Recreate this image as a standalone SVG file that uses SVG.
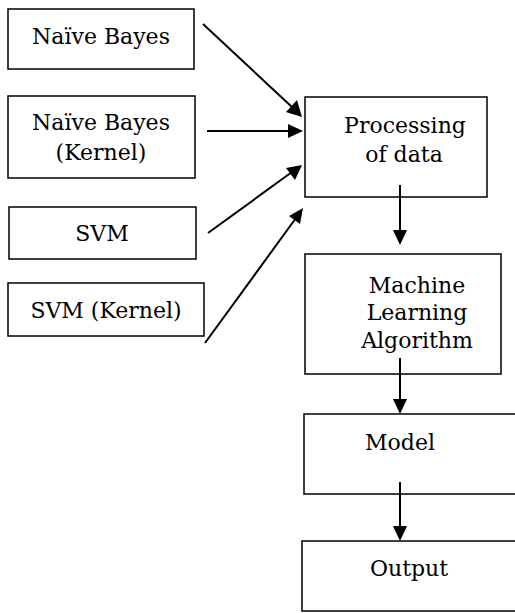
<svg xmlns="http://www.w3.org/2000/svg" width="515" height="613" viewBox="0 0 515 613">
<defs>
<style>
.box{fill:#fff;stroke:#000;stroke-width:1.5}
.t{font-family:'DejaVu Serif','Liberation Serif',serif;font-size:22px;fill:#000;text-anchor:middle}
.ln{stroke:#000;stroke-width:2;fill:none}
.hd{fill:#000;stroke:none}
</style>
</defs>
<rect width="515" height="613" fill="#fff"/>
<g id="n1"><rect class="box" x="8" y="9" width="186" height="60"/><text class="t" x="101" y="44">Naïve Bayes</text></g>
<g id="n2"><rect class="box" x="8" y="96" width="187" height="82"/><text class="t" x="101" y="130">Naïve Bayes</text><text class="t" x="101" y="160">(Kernel)</text></g>
<g id="n3"><rect class="box" x="9" y="207" width="187" height="52"/><text class="t" x="102" y="241">SVM</text></g>
<g id="n4"><rect class="box" x="8" y="283" width="196" height="53"/><text class="t" x="106" y="318">SVM (Kernel)</text></g>
<g id="n5"><rect class="box" x="305" y="97" width="182" height="100"/><text class="t" x="405" y="133">Processing</text><text class="t" x="404" y="162">of data</text></g>
<g id="n6"><rect class="box" x="305" y="254" width="196" height="120"/><text class="t" x="417" y="293">Machine</text><text class="t" x="417" y="320">Learning</text><text class="t" x="417" y="348">Algorithm</text></g>
<g id="n7"><rect class="box" x="304" y="414" width="220" height="80"/><text class="t" x="400" y="450">Model</text></g>
<g id="n8"><rect class="box" x="302" y="541" width="222" height="70"/><text class="t" x="409" y="576">Output</text></g>
<g id="connectors">
<line class="ln" x1="203" y1="24" x2="293" y2="108"/>
<polygon class="hd" points="302,117 286,112 297,100"/>
<line class="ln" x1="207" y1="131" x2="290" y2="131"/>
<polygon class="hd" points="303,131 288,124 288,138"/>
<line class="ln" x1="208" y1="233" x2="292" y2="172"/>
<polygon class="hd" points="302,165 295,180 286,168"/>
<line class="ln" x1="205" y1="343" x2="296" y2="218"/>
<polygon class="hd" points="303,208 300,224 289,216"/>
<line class="ln" x1="400" y1="185" x2="400" y2="232"/>
<polygon class="hd" points="400,245 393,230 407,230"/>
<line class="ln" x1="400" y1="358" x2="400" y2="401"/>
<polygon class="hd" points="400,414 393,399 407,399"/>
<line class="ln" x1="400" y1="482" x2="400" y2="528"/>
<polygon class="hd" points="400,541 393,526 407,526"/>
</g>
</svg>
